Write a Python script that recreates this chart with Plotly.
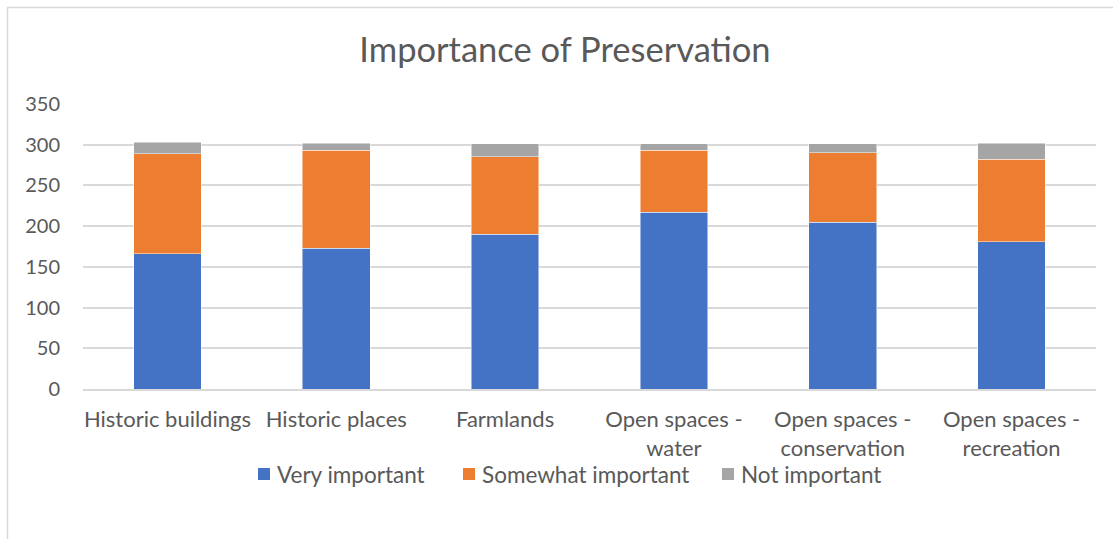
import plotly.graph_objects as go

categories = ["Historic buildings", "Historic places", "Farmlands",
              "Open spaces -<br>water", "Open spaces -<br>conservation",
              "Open spaces -<br>recreation"]
series_names = ["Very important", "Somewhat important", "Not important"]
very_important = [166, 173, 190, 217, 205, 181]
somewhat_important = [123, 120, 95, 76, 85, 101]
not_important = [14, 9, 16, 8, 11, 20]
y_ticks = [0, 50, 100, 150, 200, 250, 300, 350]

colors = ["#4472C4", "#ED7D31", "#A5A5A5"]
W, H = 1113, 539
ml, mr, mt, mb = 83, 17, 104, 150
FONT = "Lato"
TXT = "#595959"

fig = go.Figure()
for name, vals, col in zip(series_names,
                           [very_important, somewhat_important, not_important],
                           colors):
    fig.add_trace(go.Bar(x=categories, y=vals, name=name,
                         marker=dict(color=col, line=dict(color="rgba(255,255,255,0.6)", width=0.8))))

pw = W - ml - mr
ph = H - mt - mb
def px2x(p):
    return (p - ml) / pw
def py2y(p):
    return (H - mb - p) / ph

# chart border
fig.add_shape(type="rect", xref="paper", yref="paper",
              x0=px2x(7.5), x1=px2x(1125), y0=py2y(7.5), y1=py2y(550),
              line=dict(color="#d9d9d9", width=1.5), fillcolor="rgba(0,0,0,0)", layer="below")

# custom legend (Excel style: small square right next to text)
leg_sq_x = [258, 463, 722]
leg_y = 474
for sx, name, col in zip(leg_sq_x, series_names, colors):
    fig.add_shape(type="rect", xref="paper", yref="paper",
                  x0=px2x(sx), x1=px2x(sx + 12), y0=py2y(leg_y - 6), y1=py2y(leg_y + 6),
                  line=dict(width=0), fillcolor=col)
    fig.add_annotation(xref="paper", yref="paper", x=px2x(sx + 17), y=py2y(leg_y),
                       xanchor="left", yanchor="middle", showarrow=False, text=name,
                       font=dict(family=FONT, size=22.5, color=TXT))

fig.update_layout(
    width=W, height=H,
    margin=dict(l=ml, r=mr, t=mt, b=mb),
    barmode="stack", bargap=0.6,
    paper_bgcolor="white", plot_bgcolor="white",
    font=dict(family=FONT, color=TXT, size=20),
    title=dict(text="Importance of Preservation", x=px2x(565), xref="paper", xanchor="center",
               y=1 - 50 / H, yanchor="middle", font=dict(family=FONT, size=34.5, color=TXT)),
    showlegend=False,
    xaxis=dict(showgrid=False, showline=True, linecolor="#d9d9d9", linewidth=1.5,
               tickfont=dict(size=22, color=TXT), ticks="", ticklabelstandoff=10),
    yaxis=dict(range=[0, 350], tickvals=y_ticks, showgrid=True, gridcolor="#d9d9d9",
               gridwidth=1.5, zeroline=False, showline=False,
               tickfont=dict(size=20, color=TXT), ticks="", ticklabelstandoff=22),
)

fig.write_html("out.html", config={"displayModeBar": False},
               post_script="document.body.style.margin='0px';")
